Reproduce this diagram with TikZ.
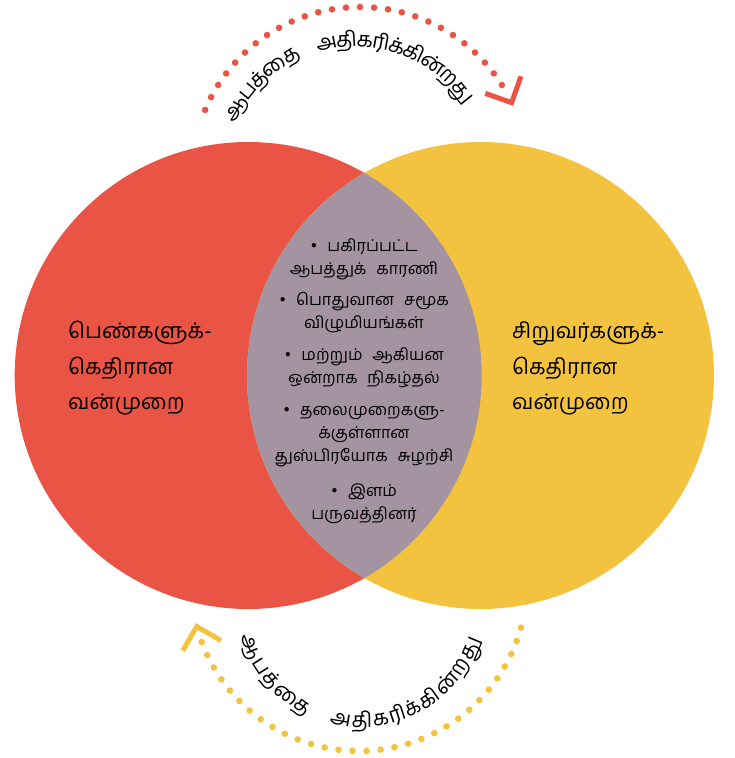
\documentclass[tikz,border=0pt]{standalone}
\usepackage{fontspec}
\newfontfamily\tam[Script=Tamil]{Hind Madurai}
\usetikzlibrary{calc}
\definecolor{cred}{RGB}{233,84,69}
\definecolor{cyel}{RGB}{243,195,64}
\definecolor{clens}{RGB}{164,147,160}
\newdimen\clw
\def\arcfnt{\tam\fontsize{21}{21}\selectfont}
% #1 name, #2 centre, #3 start angle, #4 baseline radius, #5 direction, #6 mid-glyph radius, #7 clusters
\newcommand\arctext[7]{%
 \xdef\curang{#3}%
 \foreach \c [count=\i] in {#7}{%
   \node[inner sep=0pt,outer sep=0pt] (m#1\i) at (#2) {\setbox0=\hbox{\arcfnt\c}\global\clw=\wd0\relax};%
   \pgfmathsetmacro\hw{deg(\the\clw/2/#6)}%
   \pgfmathsetmacro\ang{\curang+(#5)*\hw}%
   \pgfmathsetmacro\rot{\ang+(#5)*90}%
   \node[anchor=base,rotate=\rot,inner sep=0pt,outer sep=0pt] (#1\i) at ($(#2)+(\ang:#4)$) {\arcfnt\c};%
   \pgfmathsetmacro\nx{\curang+(#5)*2*\hw}%
   \xdef\curang{\nx}%
 }%
}
\begin{document}
\begin{tikzpicture}[x=1pt,y=1pt,
  big/.style={font=\tam\fontsize{21.5}{35}\selectfont,inner sep=0pt,anchor=base west},
  mid/.style={font=\tam\fontsize{16.3}{23}\selectfont,inner sep=0pt,anchor=base}]
\useasboundingbox (0,-758) rectangle (734,0);
\coordinate (L) at (248.2,-375.5);
\coordinate (R) at (480.5,-375.5);
\coordinate (tc) at (360,-175);
\coordinate (bc) at (359,-583);
\coordinate (ttc) at (355,-178.5);
\coordinate (btc) at (361,-603);
\fill[cred] (L) circle (233.5);
\fill[cyel] (R) circle (233.5);
\begin{scope}
\clip (L) circle (233.5);
\fill[clens] (R) circle (233.5);
\end{scope}
% dotted arcs
\foreach \k in {0,...,26} \fill[cred] ($(tc)+({157.2-\k*4.8}:168)$) circle (3.3);
\foreach \k in {0,...,30} \fill[cyel] ($(bc)+({200.6+\k*4.8}:168)$) circle (3.3);
\coordinate (ta) at ($(tc)+(25.5:168)$);
\coordinate (ba) at ($(bc)+(195:168)$);
\draw[cred,line width=5pt,miter limit=10] ($(ta)+(70.5:28)$) -- (ta) -- ($(ta)+(160.5:28)$);
\draw[cyel,line width=5pt,miter limit=10] ($(ba)+(240:28)$) -- (ba) -- ($(ba)+(330:28)$);
% arc texts
\arctext{tp}{ttc}{155}{132}{-1}{141}{ஆ,ப,த்,தை,\hspace*{20pt},அ,தி,க,ரி,க்,கி,ன்,ற,து}
\arctext{bt}{btc}{195}{124}{1}{115}{ஆ,ப,த்,தை,\hspace*{20pt},அ,தி,க,ரி,க்,கி,ன்,ற,து}
% side texts
\node[big] (l1) at (68,-338) {பெண்களுக்-};
\node[big] (l2) at (68,-374) {கெதிரான};
\node[big] (l3) at (68,-409) {வன்முறை};
\node[big] (r1) at (512,-338) {சிறுவர்களுக்-};
\node[big] (r2) at (512,-374) {கெதிரான};
\node[big] (r3) at (512,-409) {வன்முறை};
% centre list
\node[mid] (c1) at (364,-251) {•\hspace{0.6em}பகிரப்பட்ட};
\node[mid] (c2) at (364,-274) {ஆபத்துக்\hspace{0.6em}காரணி};
\node[mid] (c3) at (364,-305) {•\hspace{0.6em}பொதுவான\hspace{0.6em}சமூக};
\node[mid] (c4) at (364,-328) {விழுமியங்கள்};
\node[mid] (c5) at (364,-360) {•\hspace{0.6em}மற்றும்\hspace{0.6em}ஆகியன};
\node[mid] (c6) at (364,-383) {ஒன்றாக\hspace{0.6em}நிகழ்தல்};
\node[mid] (c7) at (364,-415) {•\hspace{0.6em}தலைமுறைகளு-};
\node[mid] (c8) at (364,-438) {க்குள்ளான};
\node[mid] (c9) at (364,-461) {துஸ்பிரயோக\hspace{0.6em}சுழற்சி};
\node[mid] (c10) at (364,-496) {•\hspace{0.6em}இளம்};
\node[mid] (c11) at (364,-519) {பருவத்தினர்};
\end{tikzpicture}
\end{document}
